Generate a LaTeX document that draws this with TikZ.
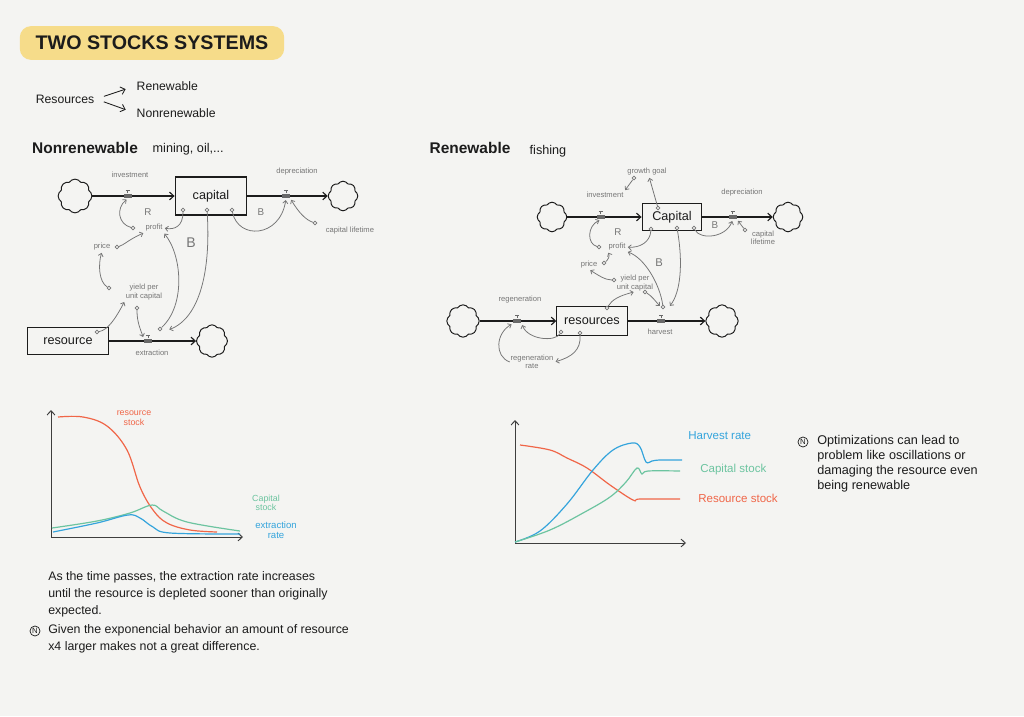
\documentclass[tikz,border=0pt]{standalone}
\usepackage{fontspec}
\setmainfont{Liberation Sans}
\usepackage{tikz}
\usetikzlibrary{shapes.symbols, arrows.meta, positioning}
\definecolor{paper}{RGB}{244,244,242}
\definecolor{hilite}{RGB}{246,220,138}
\definecolor{ink}{RGB}{28,28,28}
\definecolor{linkgray}{RGB}{118,118,118}
\definecolor{valvegray}{RGB}{105,105,105}
\definecolor{curvered}{RGB}{240,102,72}
\definecolor{curvegreen}{RGB}{108,196,160}
\definecolor{curveblue}{RGB}{52,164,220}
\tikzset{
  titlebox/.style={rectangle, fill=hilite, rounded corners=8pt, minimum width=188pt, minimum height=24pt,
    font=\fontsize{14}{15}\bfseries\selectfont, text=ink},
  hand/.style={font=\fontsize{8.7}{10}\selectfont, text=ink, inner sep=1pt},
  head/.style={font=\fontsize{11}{12}\bfseries\selectfont, text=ink, inner sep=1pt},
  aside/.style={font=\fontsize{9}{10}\selectfont, text=ink, inner sep=1pt},
  stock/.style={rectangle, draw=ink, line width=0.8pt, inner sep=0pt, font=\fontsize{9}{10}\selectfont, text=ink},
  sink/.style={cloud, cloud puffs=8, cloud puff arc=115, aspect=1, draw=ink, line width=0.7pt, inner sep=0pt,
    minimum width=21pt, minimum height=21pt},
  flow/.style={-{Straight Barb[length=3pt,width=5.5pt]}, draw=ink, line width=0.8pt},
  valve/.style={rectangle, fill=valvegray, inner sep=0pt, minimum width=5.5pt, minimum height=3pt},
  var/.style={font=\fontsize{5.4}{6}\selectfont, text=linkgray, inner sep=0.5pt, align=center},
  dot/.style={circle, draw=linkgray, fill=paper, line width=0.45pt, inner sep=0pt, minimum size=2.6pt},
  link/.style={-{Straight Barb[length=2pt,width=3.6pt]}, draw=linkgray, line width=0.55pt, shorten >=1pt},
  polarity/.style={font=\fontsize{7}{8}\selectfont, text=linkgray},
  axis/.style={-{Straight Barb[length=3pt,width=5.5pt]}, draw=ink!85, line width=0.7pt},
  series/.style={line width=0.85pt},
  serieslab/.style={font=\fontsize{6.3}{6.8}\selectfont, align=center, inner sep=0pt},
  note/.style={anchor=north west, align=left, font=\fontsize{8.8}{12}\selectfont, text=ink, inner sep=0pt},
  nbmark/.style={circle, draw=ink, line width=0.5pt, inner sep=0.6pt, font=\fontsize{5.5}{5.5}\selectfont, text=ink}
}
\begin{document}
\begin{tikzpicture}[x=0.025cm, y=-0.025cm]
\useasboundingbox (0,0) rectangle (1024,716);
\fill[paper] (0,0) rectangle (1024,716);

% title and overview
\node[titlebox] (title) at (152,43) {TWO STOCKS SYSTEMS};
\node[hand] (resAll) at (65,99) {Resources};
\node[hand, anchor=west] (renew) at (135,86) {Renewable};
\node[hand, anchor=west] (nonrenew) at (135,113) {Nonrenewable};
\draw[flow, line width=0.6pt, shorten <=6pt, shorten >=7pt] (resAll.east) -- (renew.west);
\draw[flow, line width=0.6pt, shorten <=6pt, shorten >=7pt] (resAll.east) -- (nonrenew.west);

% nonrenewable system
\node[head] (hNon) at (85,148) {Nonrenewable};
\node[aside, anchor=west] (hNonEx) at (151,149) {mining, oil,...};

\node[sink, minimum width=24pt, minimum height=24pt] (srcL) at (75,196) {};
\node[stock, minimum width=51pt, minimum height=27pt] (capL) at (211,196) {capital};
\node[sink] (sinkL) at (343,196) {};
\node[stock, minimum width=57pt, minimum height=19pt] (resL) at (68,341) {resource};
\node[sink, minimum width=22pt, minimum height=23pt] (sinkExtL) at (212,341) {};
\draw[flow] (srcL) -- node[valve, pos=0.43] (vInvL) {} (capL);
\draw[flow] (capL) -- node[valve, pos=0.48] (vDepL) {} (sinkL);
\draw[flow] (resL) -- node[valve, pos=0.45] (vExtL) {} (sinkExtL);

\node[var] (investL) at (130,175) {investment};
\node[var] (depL) at (297,172) {depreciation};
\node[var] (profL) at (154,228) {profit};
\node[var] (priceL) at (102,247) {price};
\node[var] (yieldL) at (144,292) {yield per\\unit capital};
\node[var] (lifeL) at (350,231) {capital lifetime};
\node[var] (extL) at (152,353) {extraction};
\node[polarity] (loopRL) at (148,212) {R};
\node[polarity] (loopB1L) at (261,212) {B};
\node[polarity, font=\fontsize{10}{11}\selectfont] (loopB2L) at (191,243) {B};

\node[dot] (dProfL) at (133,228) {};
\node[dot] (dPriceL) at (117,247) {};
\node[dot] (dYieldL1) at (109,288) {};
\node[dot] (dYieldL2) at (137,308) {};
\node[dot] (dLifeL) at (315,223) {};
\node[dot] (dCap1L) at (183,210) {};
\node[dot] (dCap2L) at (207,210) {};
\node[dot] (dCap3L) at (232,210) {};
\node[dot] (dResL) at (97,332) {};
\node[dot] (dExtL) at (160,329) {};

\draw[link] (dCap1L) .. controls (183,226) and (175,230) .. (profL.east);
\draw[link] (dProfL) .. controls (118,224) and (116,208) .. (vInvL.south);
\draw[link] (dPriceL) .. controls (124,245) and (128,240) .. (profL.south west);
\draw[link] (dYieldL1) .. controls (99,282) and (98,265) .. (priceL.south);
\draw[link] (dResL) .. controls (108,330) and (116,318) .. (yieldL.south west);
\draw[link] (dYieldL2) .. controls (137,322) and (140,328) .. (vExtL.north west);
\draw[link] (dExtL) .. controls (186,305) and (182,255) .. (profL.south east);
\draw[link] (dCap2L) .. controls (211,270) and (200,318) .. ([shift={(8,1)}]dExtL.center);
\draw[link] (dCap3L) .. controls (238,240) and (280,238) .. (vDepL.south);
\draw[link] (dLifeL) .. controls (306,220) and (299,213) .. (vDepL.south east);

% renewable system
\node[head] (hRen) at (470,148) {Renewable};
\node[aside, anchor=west] (hRenEx) at (528,151) {fishing};

\node[sink] (srcR) at (552,217) {};
\node[stock, minimum width=42.5pt, minimum height=19pt] (capR) at (672,217) {Capital};
\node[sink] (sinkR) at (788,217) {};
\node[sink, minimum width=23pt, minimum height=23pt] (srcR2) at (463,321) {};
\node[stock, minimum width=50pt, minimum height=21pt] (resR) at (592,321) {resources};
\node[sink, minimum width=23pt, minimum height=23pt] (sinkR2) at (722,321) {};
\draw[flow] (srcR) -- node[valve, pos=0.45] (vInvR) {} (capR);
\draw[flow] (capR) -- node[valve, pos=0.43] (vDepR) {} (sinkR);
\draw[flow] (srcR2) -- node[valve, pos=0.49] (vRegR) {} (resR);
\draw[flow] (resR) -- node[valve, pos=0.43] (vHarR) {} (sinkR2);

\node[var] (investR) at (605,195) {investment};
\node[var] (goalR) at (647,172) {growth goal};
\node[var] (depR) at (742,193) {depreciation};
\node[var] (lifeR) at (763,238) {capital\\lifetime};
\node[var] (profR) at (617,247) {profit};
\node[var] (priceR) at (589,265) {price};
\node[var] (yieldR) at (635,283) {yield per\\unit capital};
\node[var] (regR) at (520,300) {regeneration};
\node[var] (harR) at (660,332) {harvest};
\node[var] (rateR) at (532,362) {regeneration\\rate};
\node[polarity] (loopRR) at (618,232) {R};
\node[polarity] (loopB1R) at (715,225) {B};
\node[polarity, font=\fontsize{8}{9}\selectfont] (loopB2R) at (659,263) {B};

\node[dot] (dGoalR) at (634,178) {};
\node[dot] (dCapTopR) at (658,208) {};
\node[dot] (dCap1R) at (651,229) {};
\node[dot] (dCap2R) at (677,228) {};
\node[dot] (dCap3R) at (694,228) {};
\node[dot] (dLifeR) at (745,230) {};
\node[dot] (dProfR) at (599,247) {};
\node[dot] (dPriceR) at (604,263) {};
\node[dot] (dYieldR1) at (614,280) {};
\node[dot] (dYieldR2) at (645,292) {};
\node[dot] (dResTopR) at (607,308) {};
\node[dot] (dHarR) at (663,307) {};
\node[dot] (dRes1R) at (561,332) {};
\node[dot] (dRes2R) at (580,333) {};

\draw[link] (dGoalR) -- (investR.north east);
\draw[link] (dCapTopR) -- ([shift={(2,0)}]goalR.south);
\draw[link] (dProfR) .. controls (587,244) and (587,226) .. (vInvR.south);
\draw[link] (dCap1R) .. controls (650,242) and (640,248) .. (profR.east);
\draw[link] (dPriceR) .. controls (608,260) and (610,256) .. (profR.south west);
\draw[link] (dYieldR1) .. controls (605,280) and (598,275) .. (priceR.south);
\draw[link] (dResTopR) .. controls (612,300) and (618,296) .. (yieldR.south);
\draw[link] (dYieldR2) .. controls (652,296) and (656,302) .. (dHarR.west);
\draw[link] (dHarR) .. controls (660,285) and (645,258) .. (profR.south east);
\draw[link] (dCap2R) .. controls (683,262) and (681,292) .. ([shift={(6,0)}]dHarR.center);
\draw[link] (dCap3R) .. controls (700,240) and (726,238) .. (vDepR.south);
\draw[link] (dLifeR) -- (vDepR.south east);
\draw[link] (dRes1R) .. controls (555,342) and (528,340) .. (vRegR.south east);
\draw[link] (dRes2R) .. controls (581,350) and (572,357) .. (rateR.east);
\draw[link] (rateR.west) .. controls (494,356) and (496,333) .. (vRegR.south west);

% valve handles
\foreach \v in {vInvL, vDepL, vExtL, vInvR, vDepR, vRegR, vHarR}
  \draw[valvegray, line width=0.6pt] (\v.north) -- ++(0,-3) ++(-2,0) -- ++(4,0);

% nonrenewable behaviour
\coordinate (oL) at (51,537);
\coordinate (yL) at (51,410);
\coordinate (xL) at (243,537);
\draw[axis] (oL) -- (yL);
\draw[axis] (oL) -- (xL);
\draw[series, curvered] plot[smooth, tension=0.6] coordinates {(58,417) (83,417) (107,426) (127,450) (140,487) (153,510) (167,523) (190,530) (217,532)};
\draw[series, curvegreen] plot[smooth, tension=0.6] coordinates {(52,528) (97,521) (130,513) (152,505) (163,511) (187,522) (240,531)};
\draw[series, curveblue] plot[smooth, tension=0.6] coordinates {(53,532) (97,523) (128,515) (140,518) (153,527) (170,533) (240,534)};
\node[serieslab, text=curvered] (labResL) at (134,418) {resource\\stock};
\node[serieslab, text=curvegreen] (labCapL) at (266,503) {Capital\\stock};
\node[serieslab, font=\fontsize{6.8}{7}\selectfont, text=curveblue] (labExtL) at (276,530) {extraction\\rate};

\node[note] (noteL1) at (48,571) {As the time passes, the extraction rate increases\\until the resource is depleted sooner than originally\\expected.};
\node[nbmark] (nbL) at (35,631) {N};
\node[note] (noteL2) at (48,624) {Given the exponencial behavior an amount of resource\\x4 larger makes not a great difference.};

% renewable behaviour
\coordinate (oR) at (515,543);
\coordinate (yR) at (515,420);
\coordinate (xR) at (686,543);
\draw[axis] (oR) -- (yR);
\draw[axis] (oR) -- (xR);
\draw[series, curvered] plot[smooth, tension=0.6] coordinates {(520,445) (550,450) (567,458) (587,468) (610,485) (633,500) (640,499) (680,499)};
\draw[series, curveblue] plot[smooth, tension=0.6] coordinates {(515,542) (540,531) (567,504) (593,470) (613,450) (632,443) (640,447) (646,462) (652,461) (660,460) (682,460)};
\draw[series, curvegreen] plot[smooth, tension=0.6] coordinates {(515,542) (550,530) (583,513) (610,497) (626,482) (637,468) (642,474) (648,471) (680,471)};
\node[serieslab, anchor=west, font=\fontsize{8.2}{9}\selectfont, text=curveblue] (labHarR) at (688,436) {Harvest rate};
\node[serieslab, anchor=west, font=\fontsize{8.2}{9}\selectfont, text=curvegreen] (labCapR) at (700,470) {Capital stock};
\node[serieslab, anchor=west, font=\fontsize{8.2}{9}\selectfont, text=curvered] (labResR) at (698,498) {Resource stock};

\node[nbmark] (nbR) at (803,442) {N};
\node[note, font=\fontsize{9}{10.6}\selectfont] (noteR) at (817,435) {Optimizations can lead to\\problem like oscillations or\\damaging the resource even\\being renewable};
\end{tikzpicture}
\end{document}
